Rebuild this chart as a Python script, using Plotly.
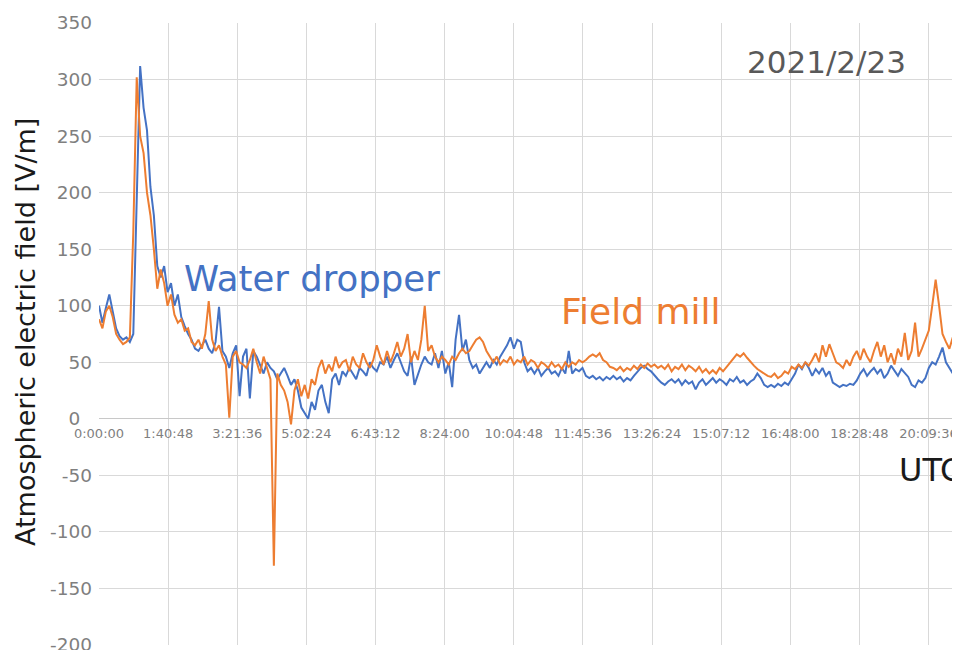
import plotly.graph_objects as go

# ---- data (one sample every 5 minutes, UTC) ----
step_seconds = 300
water_dropper = [
    100, 85, 98, 110, 95, 80, 73, 70, 72, 68,
    75, 200, 312, 275, 255, 205, 180, 135, 125, 135,
    112, 120, 100, 110, 90, 82, 75, 70, 62, 60,
    65, 70, 62, 58, 68, 99, 60, 55, 45, 58,
    65, 20, 55, 62, 18, 60, 55, 48, 40, 50,
    45, 42, 35, 40, 45, 38, 30, 35, 25, 10,
    5, 0, 15, 8, 25, 30, 15, 5, 35, 40,
    30, 42, 38, 45, 40, 35, 45, 42, 38, 50,
    45, 42, 50, 48, 55, 45, 52, 58, 50, 42,
    38, 55, 30, 40, 48, 55, 50, 48, 58, 45,
    60, 40, 50, 28, 70, 92, 60, 70, 52, 45,
    48, 40, 45, 50, 45, 52, 48, 55, 60, 65,
    72, 62, 70, 68, 50, 42, 45, 40, 45, 38,
    42, 45, 40, 42, 38, 45, 40, 60, 40, 44,
    42, 45, 38, 36, 38, 35, 37, 34, 37, 35,
    38, 35, 37, 33, 36, 34, 38, 42, 45, 47,
    44, 42, 38, 35, 32, 30, 33, 35, 32, 35,
    30, 34, 31, 33, 26, 32, 35, 30, 33, 36,
    32, 35, 33, 30, 35, 33, 37, 32, 34, 30,
    33, 35, 40, 36, 30, 28, 30, 28, 31, 29,
    32, 30, 35, 40, 48, 44, 50, 45, 38, 44,
    40, 45, 38, 42, 32, 30, 28, 30, 29, 31,
    30, 34, 40, 44, 38, 42, 45, 40, 44, 36,
    40, 47, 42, 38, 44, 40, 37, 30, 28, 34,
    32, 36, 45, 50, 48, 55, 63, 50, 45, 40,
    52, 48,
]
field_mill = [
    88, 80, 95, 100, 90, 75, 70, 66, 68, 72,
    165, 302, 250, 235, 200, 180, 150, 115, 132, 120,
    100, 110, 92, 85, 88, 78, 80, 68, 65, 70,
    62, 75, 104, 70, 60, 65, 55, 48, 1, 55,
    60, 50, 48, 45, 52, 62, 50, 40, 55, 45,
    35, -130, 40, 30, 25, 15, -5, 25, 35, 20,
    30, 18, 35, 30, 45, 52, 40, 48, 42, 55,
    45, 50, 52, 42, 55, 48, 45, 58, 50, 45,
    52, 65, 55, 48, 60, 50, 58, 68, 55, 62,
    75, 50, 60, 52, 70, 100, 60, 65, 55, 50,
    55, 52, 48, 55, 52, 58, 62, 58, 60, 65,
    70, 72, 68, 60, 55, 50, 55, 48, 52, 50,
    55, 48, 52, 50, 55, 48, 52, 50, 45, 50,
    48, 45, 50, 46, 48, 44, 50, 46, 50, 48,
    52, 50, 52, 55, 57, 55, 58, 52, 50, 46,
    45, 43, 46, 42, 45, 43, 47, 44, 48, 45,
    49, 46, 48, 45, 47, 44, 48, 42, 46, 44,
    48, 43, 47, 45, 42, 46, 41, 44, 40, 43,
    40, 45, 42, 46, 50, 54, 57, 55, 58, 54,
    50, 47, 44, 42, 40, 38, 37, 40, 36, 38,
    42, 40, 46, 44, 48, 45, 50, 47, 52, 58,
    50, 65, 55, 66, 58, 50, 48, 45, 52, 47,
    55, 60, 52, 62, 55, 50, 60, 68, 55, 65,
    50, 58, 48, 62, 55, 76, 52, 60, 85, 55,
    62, 70, 78, 100, 123, 100, 75, 68, 62, 72,
    65, 70,
]
tick_labels = ["0:00:00", "1:40:48", "3:21:36", "5:02:24", "6:43:12", "8:24:00",
               "10:04:48", "11:45:36", "13:26:24", "15:07:12", "16:48:00",
               "18:28:48", "20:09:36"]
tick_seconds = [0, 6048, 12096, 18144, 24192, 30240, 36288, 42336, 48384,
                54432, 60480, 66528, 72576]
y_ticks = [-200, -150, -100, -50, 0, 50, 100, 150, 200, 250, 300, 350]
y_tick_labels = ["-200", "-150", "-100", "-50", "0\u00a0\u00a0", "50", "100", "150",
                 "200", "250", "300", "350"]

time_s = [i * step_seconds for i in range(len(water_dropper))]

BLUE = "#4472C4"
ORANGE = "#ED7D31"
GRID = "#d9d9d9"
TICK = "#7f7f7f"

# page body has an 8px default margin: plot area spans x 99..960, y 23..645 on screen
W, H = 952, 642
L, T, B = 91, 15, 5
PW, PH = W - L, H - T - B


def px(xs):
    return (xs - 99) / PW


def py(ys):
    return (645 - ys) / PH


fig = go.Figure()
fig.add_trace(go.Scatter(x=time_s, y=water_dropper, mode="lines",
                         line=dict(color=BLUE, width=2), name="Water dropper"))
fig.add_trace(go.Scatter(x=time_s, y=field_mill, mode="lines",
                         line=dict(color=ORANGE, width=2), name="Field mill"))

fig.update_layout(
    width=W, height=H,
    margin=dict(l=L, r=0, t=T, b=B, autoexpand=False),
    paper_bgcolor="white", plot_bgcolor="white",
    showlegend=False,
    xaxis=dict(
        range=[0, 75330], tickmode="array", tickvals=tick_seconds, ticktext=tick_labels,
        showgrid=True, gridcolor=GRID, gridwidth=1, zeroline=False, showline=False,
        ticks="", anchor="free", position=200 / 550, ticklabelstandoff=5,
        ticklabeloverflow="allow",
        tickfont=dict(family="DejaVu Sans", size=13, color=TICK),
    ),
    yaxis=dict(
        range=[-200, 350], tickmode="array", tickvals=y_ticks, ticktext=y_tick_labels,
        showgrid=True, gridcolor=GRID, gridwidth=1,
        zeroline=True, zerolinecolor="#c8c8c8", zerolinewidth=1,
        showline=False, ticks="", ticklabelstandoff=6, ticklabeloverflow="allow",
        tickfont=dict(family="DejaVu Sans", size=18.5, color=TICK),
    ),
    annotations=[
        dict(text="Atmospheric electric field [V/m]", xref="paper", yref="paper",
             x=px(25), y=py(332), xanchor="center", yanchor="middle", textangle=-90,
             showarrow=False, font=dict(family="DejaVu Sans", size=27, color="#1a1a1a")),
        dict(text="2021/2/23", xref="paper", yref="paper",
             x=px(826), y=py(62), xanchor="center", yanchor="middle",
             showarrow=False, font=dict(family="DejaVu Sans", size=31, color="#595959")),
        dict(text="Water dropper", xref="paper", yref="paper",
             x=px(312), y=py(278), xanchor="center", yanchor="middle",
             showarrow=False, font=dict(family="DejaVu Sans", size=35.5, color=BLUE)),
        dict(text="Field mill", xref="paper", yref="paper",
             x=px(641), y=py(311), xanchor="center", yanchor="middle",
             showarrow=False, font=dict(family="DejaVu Sans", size=36, color=ORANGE)),
        dict(text="UTC", xref="paper", yref="paper",
             x=px(897), y=py(470), xanchor="left", yanchor="middle",
             showarrow=False, font=dict(family="DejaVu Sans", size=32, color="#1a1a1a")),
    ],
)

fig.write_html("out.html")
